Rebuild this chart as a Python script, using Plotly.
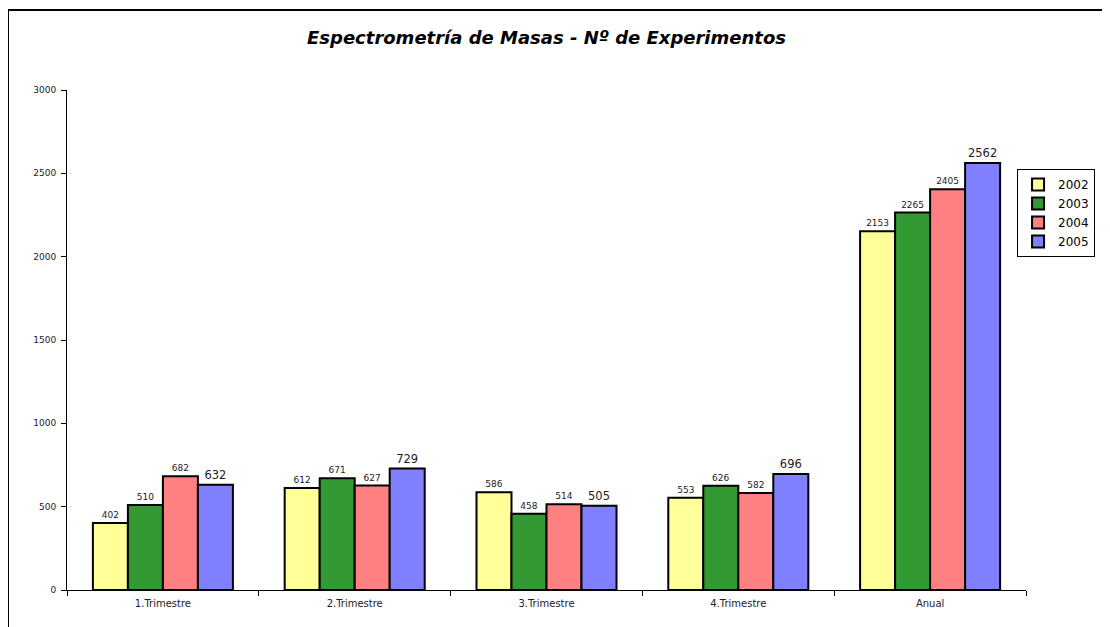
import plotly.graph_objects as go

categorias = ["1.Trimestre", "2.Trimestre", "3.Trimestre", "4.Trimestre", "Anual"]
anios = ["2002", "2003", "2004", "2005"]
v2002 = [402, 612, 586, 553, 2153]
v2003 = [510, 671, 458, 626, 2265]
v2004 = [682, 627, 514, 582, 2405]
v2005 = [632, 729, 505, 696, 2562]
colores = ["#FFFF99", "#339933", "#FF8080", "#8080FF"]
tam_texto = [9, 9, 9, 11.5]

fig = go.Figure()
for anio, vals, color, ts in zip(anios, [v2002, v2003, v2004, v2005], colores, tam_texto):
    fig.add_trace(go.Bar(
        x=categorias, y=vals, name=anio,
        marker=dict(color=color, line=dict(color="black", width=2)),
        text=vals, textposition="outside", cliponaxis=False,
        textfont=dict(size=ts, color="#222222", family="DejaVu Sans"),
    ))

# la página añade 8 px de margen al cuerpo; se compensa en los márgenes
fig.update_layout(
    width=1110, height=627,
    plot_bgcolor="white", paper_bgcolor="white",
    margin=dict(l=59, r=92, t=82, b=45, autoexpand=False),
    barmode="group", bargap=0.27, bargroupgap=0,
    font=dict(family="DejaVu Sans", color="#222222"),
    title=dict(
        text="<b><i>Espectrometría de Masas - Nº de Experimentos</i></b>",
        x=0.5, xref="paper", xanchor="center", y=1 - 30 / 627, yref="container",
        yanchor="middle",
        font=dict(size=18, color="black", family="DejaVu Sans"),
    ),
    legend=dict(
        x=1.072, xanchor="right", y=0.842, yanchor="top",
        bordercolor="black", borderwidth=1, bgcolor="white",
        font=dict(size=12, color="black"),
        itemwidth=30,
    ),
    showlegend=True,
)
fig.update_yaxes(
    range=[0, 3000], dtick=500, showgrid=False,
    showline=True, linecolor="black", linewidth=1,
    ticks="outside", ticklen=5, tickcolor="black", ticklabelstandoff=3,
    tickfont=dict(size=9), zeroline=False,
)
fig.update_xaxes(
    showline=True, linecolor="black", linewidth=1,
    ticks="outside", ticklen=5, tickcolor="black", tickson="boundaries",
    ticklabelstandoff=4,
    tickfont=dict(size=10),
)
# marco exterior del gráfico
fig.add_shape(type="line", xref="paper", yref="paper",
              x0=-59 / 959, x1=1.2, y0=1 + 80 / 500, y1=1 + 80 / 500,
              line=dict(color="black", width=2))
fig.add_shape(type="line", xref="paper", yref="paper",
              x0=-59 / 959, x1=-59 / 959, y0=1 + 80 / 500, y1=-0.2,
              line=dict(color="black", width=2))

fig.write_html("out.html")
